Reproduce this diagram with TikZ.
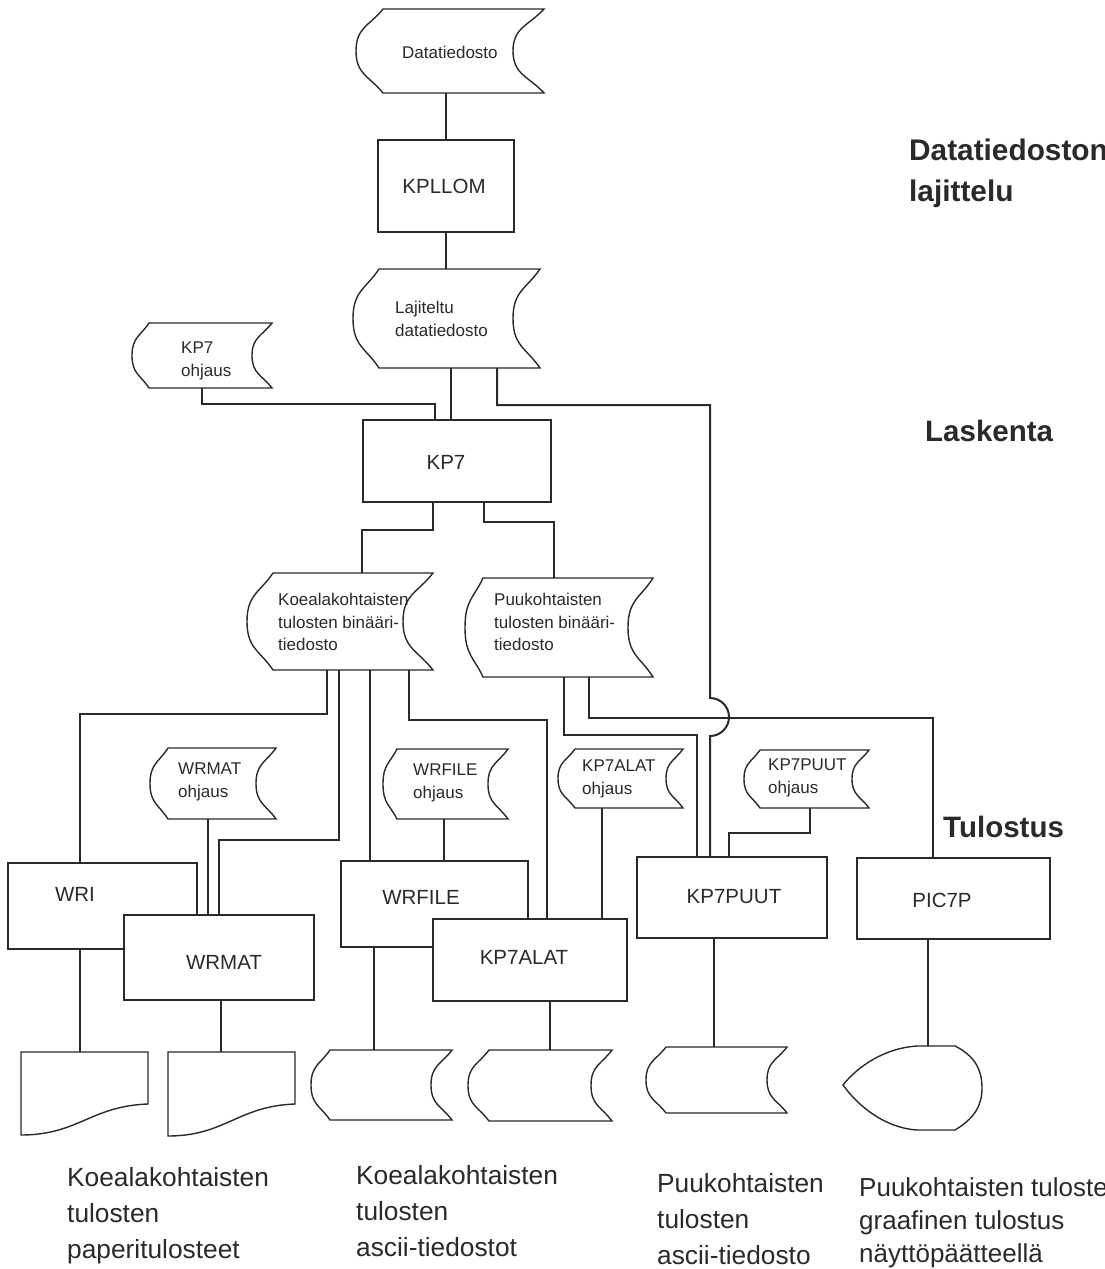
\documentclass[tikz,border=0pt]{standalone}
\usepackage{fontspec}
\setmainfont{Liberation Sans}
\definecolor{ink}{HTML}{2A2A2A}
\tikzset{
  conn/.style={draw=ink, line width=2pt},
  outline/.style={draw=ink, line width=1.4pt, fill=white},
  anchorbox/.style={inner sep=0pt, outer sep=0pt, draw=none},
  procbox/.style={draw=ink, line width=1.4pt, fill=white, inner sep=0pt, outer sep=0pt},
  lbl/.style={font=\fontsize{17}{22.5}\selectfont, text=ink, inner sep=0pt, align=left, anchor=north west},
  boxlbl/.style={font=\fontsize{20.5}{24}\selectfont, text=ink, inner sep=0pt},
  side/.style={font=\bfseries\fontsize{29.8}{41}\selectfont, text=ink, inner sep=0pt, align=left, anchor=north west},
  bottomlbl/.style={font=\fontsize{26.3}{36}\selectfont, text=ink, inner sep=0pt, align=left, anchor=north west},
}
% stored data shape: name, xl, xr, yt, yb, dl, dr
\newcommand\sdshape[7]{%
  \pgfmathsetmacro\sdym{(#4+#5)/2}%
  \pgfmathsetmacro\sdh{#5-#4}%
  \pgfmathsetmacro\sdyA{#4+0.2*\sdh}%
  \pgfmathsetmacro\sdyB{\sdym-0.28*\sdh}%
  \pgfmathsetmacro\sdyC{\sdym+0.28*\sdh}%
  \pgfmathsetmacro\sdyD{#5-0.2*\sdh}%
  \pgfmathsetmacro\sdrA{#3-0.5*#7}%
  \pgfmathsetmacro\sdrB{#3-#7}%
  \pgfmathsetmacro\sdlA{#2-0.5*#6}%
  \pgfmathsetmacro\sdlB{#2-#6}%
  \pgfmathsetmacro\sdw{#3-#2+#6}%
  \pgfmathsetmacro\sdcx{(#3+#2-#6)/2}%
  \draw[outline] (#2,#4) -- (#3,#4) .. controls (\sdrA,\sdyA) and (\sdrB,\sdyB) .. (\sdrB,\sdym) .. controls (\sdrB,\sdyC) and (\sdrA,\sdyD) .. (#3,#5) -- (#2,#5) .. controls (\sdlA,\sdyD) and (\sdlB,\sdyC) .. (\sdlB,\sdym) .. controls (\sdlB,\sdyB) and (\sdlA,\sdyA) .. cycle;
  \node[anchorbox, minimum width=\sdw pt, minimum height=\sdh pt] (#1) at (\sdcx,\sdym) {};
}
% document shape: name, xl, xr, yt, ybr, ybl
\newcommand\docshape[6]{%
  \pgfmathsetmacro\dcA{#3-0.45*(#3-#2)}%
  \pgfmathsetmacro\dcB{#2+0.45*(#3-#2)}%
  \pgfmathsetmacro\dcy{#5+2}%
  \pgfmathsetmacro\dcw{#3-#2}%
  \pgfmathsetmacro\dch{#6-#4}%
  \draw[outline] (#2,#4) -- (#3,#4) -- (#3,#5) .. controls (\dcA,\dcy) and (\dcB,#6) .. (#2,#6) -- cycle;
  \node[anchorbox, minimum width=\dcw pt, minimum height=\dch pt] (#1) at ({(#2+#3)/2},{(#4+#6)/2}) {};
}
% process box: name, xl, xr, yt, yb
\newcommand\pbox[5]{%
  \pgfmathsetmacro\pbw{#3-#2}%
  \pgfmathsetmacro\pbh{#5-#4}%
  \node[procbox, minimum width=\pbw pt, minimum height=\pbh pt] (#1) at ({(#2+#3)/2},{(#4+#5)/2}) {};
}
\begin{document}
\begin{tikzpicture}[x=1pt,y=-1pt]
\useasboundingbox (0,0) rectangle (1105,1269);
\clip (0,0) rectangle (1105,1269);
\fill[white] (0,0) rectangle (1105,1269);

% ---------- shapes ----------
\sdshape{dt}{383}{544}{9}{93}{27}{31}
\node[lbl] (dtt) at (402,46) {Datatiedosto};

\pbox{kpllom}{378}{514}{140}{232}
\node[boxlbl] (kpllomt) at (444,186) {KPLLOM};

\sdshape{lajit}{379}{540}{269}{368}{26}{27}
\node[lbl] (lajitt) at (395,301) {Lajiteltu\\datatiedosto};

\sdshape{kp7ohj}{149}{272}{323}{388}{17}{20}
\node[lbl] (kp7ohjt) at (181,342) {KP7\\ohjaus};

\pbox{kp7}{363}{551}{420}{502}
\node[boxlbl] (kp7t) at (446,462) {KP7};

\sdshape{koeala}{273}{433}{573}{670}{26}{30}
\node[lbl] (koealat) at (278,593) {Koealakohtaisten\\tulosten binääri-\\tiedosto};

\sdshape{puuk}{483}{653}{578}{677}{18}{25}
\node[lbl] (puukt) at (494,593) {Puukohtaisten\\tulosten binääri-\\tiedosto};

\sdshape{wrmatohj}{168}{276}{748}{819}{18}{20}
\node[lbl] (wrmatohjt) at (178,763) {WRMAT\\ohjaus};

\sdshape{wrfileohj}{397}{508}{749}{819}{14}{20}
\node[lbl] (wrfileohjt) at (413,764) {WRFILE\\ohjaus};

\sdshape{kp7alatohj}{575}{683}{749}{808}{17}{17}
\node[lbl] (kp7alatohjt) at (582,760) {KP7ALAT\\ohjaus};

\sdshape{kp7puutohj}{760}{869}{750}{808}{16}{17}
\node[lbl] (kp7puutohjt) at (768,759) {KP7PUUT\\ohjaus};

% ---------- process boxes ----------
\pbox{wri}{8}{197}{863}{949}
\node[boxlbl] (writ) at (75,894) {WRI};
\pbox{wrmat}{124}{314}{915}{1000}
\node[boxlbl] (wrmatt) at (224,962) {WRMAT};
\pbox{wrfile}{341}{528}{861}{947}
\node[boxlbl] (wrfilet) at (421,897) {WRFILE};
\pbox{kp7alat}{433}{627}{919}{1001}
\node[boxlbl] (kp7alatt) at (524,957) {KP7ALAT};
\pbox{kp7puut}{637}{827}{857}{938}
\node[boxlbl] (kp7puutt) at (734,897) {KP7PUUT};
\pbox{pic7p}{857}{1050}{858}{939}
\node[boxlbl] (pic7pt) at (942,900) {PIC7P};

% ---------- outputs ----------
\docshape{outa}{21}{148}{1052}{1104}{1135}
\docshape{outb}{168}{295}{1052}{1104}{1136}
\sdshape{outc}{330}{452}{1050}{1120}{19}{21}
\sdshape{outd}{489}{612}{1050}{1121}{21}{21}
\sdshape{oute}{666}{787}{1047}{1113}{20}{20}
\draw[outline] (955,1046) -- (917,1046)
  .. controls (885,1048) and (858,1066) .. (843,1085)
  .. controls (858,1106) and (885,1128) .. (917,1130) -- (955,1130)
  .. controls (975,1118) and (982,1105) .. (982,1088)
  .. controls (982,1070) and (975,1056) .. cycle;
\node[anchorbox, minimum width=139pt, minimum height=84pt] (outf) at (912.5,1088) {};

% ---------- connectors ----------
\draw[conn] (446,0 |- dt.south) -- (446,0 |- kpllom.north);
\draw[conn] (446,0 |- kpllom.south) -- (446,0 |- lajit.north);
\draw[conn] (202,0 |- kp7ohj.south) -- (202,404) -- (435,404) -- (435,0 |- kp7.north);
\draw[conn] (451,0 |- lajit.south) -- (451,0 |- kp7.north);
\coordinate (jumpTop) at (710,698);
\coordinate (jumpBot) at (710,736);
\draw[conn] (497,0 |- lajit.south) -- (497,405) -- (710,405) -- (jumpTop)
  .. controls (720.5,698) and (729,706.5) .. (729,717)
  .. controls (729,727.5) and (720.5,736) .. (jumpBot) -- (710,0 |- kp7puut.north);
\draw[conn] (433,0 |- kp7.south) -- (433,530) -- (362,530) -- (362,0 |- koeala.north);
\draw[conn] (484,0 |- kp7.south) -- (484,522) -- (554,522) -- (554,0 |- puuk.north);
\draw[conn] (327,0 |- koeala.south) -- (327,714) -- (80,714) -- (80,0 |- wri.north);
\draw[conn] (339,0 |- koeala.south) -- (339,840) -- (219,840) -- (219,0 |- wrmat.north);
\draw[conn] (370,0 |- koeala.south) -- (370,0 |- wrfile.north);
\draw[conn] (409,0 |- koeala.south) -- (409,720) -- (547,720) -- (547,0 |- kp7alat.north);
\draw[conn] (208,0 |- wrmatohj.south) -- (208,0 |- wrmat.north);
\draw[conn] (444,0 |- wrfileohj.south) -- (444,0 |- wrfile.north);
\draw[conn] (602,0 |- kp7alatohj.south) -- (602,0 |- kp7alat.north);
\draw[conn] (810,0 |- kp7puutohj.south) -- (810,833) -- (729,833) -- (729,0 |- kp7puut.north);
\draw[conn] (589,0 |- puuk.south) -- (589,718) -- (933,718) -- (933,0 |- pic7p.north);
\draw[conn] (564,0 |- puuk.south) -- (564,735) -- (697,735) -- (697,0 |- kp7puut.north);
\draw[conn] (80,0 |- wri.south) -- (80,0 |- outa.north);
\draw[conn] (221,0 |- wrmat.south) -- (221,0 |- outb.north);
\draw[conn] (374,0 |- wrfile.south) -- (374,0 |- outc.north);
\draw[conn] (550,0 |- kp7alat.south) -- (550,0 |- outd.north);
\draw[conn] (714,0 |- kp7puut.south) -- (714,0 |- oute.north);
\draw[conn] (928,0 |- pic7p.south) -- (928,0 |- outf.north);

% ---------- side labels ----------
\node[side] (sidea) at (909,139) {Datatiedoston\\lajittelu};
\node[side, font=\bfseries\fontsize{29.5}{41}\selectfont] (sideb) at (925,420) {Laskenta};
\node[side, font=\bfseries\fontsize{29.5}{41}\selectfont] (sidec) at (943,816) {Tulostus};

% ---------- bottom labels ----------
\node[bottomlbl] (bota) at (67,1167) {Koealakohtaisten\\tulosten\\paperitulosteet};
\node[bottomlbl] (botb) at (356,1165) {Koealakohtaisten\\tulosten\\ascii-tiedostot};
\node[bottomlbl] (botc) at (657,1173) {Puukohtaisten\\tulosten\\ascii-tiedosto};
\node[bottomlbl, font=\fontsize{26}{33}\selectfont] (botd) at (859,1177) {Puukohtaisten tulosten\\graafinen tulostus\\näyttöpäätteellä};
\end{tikzpicture}
\end{document}
